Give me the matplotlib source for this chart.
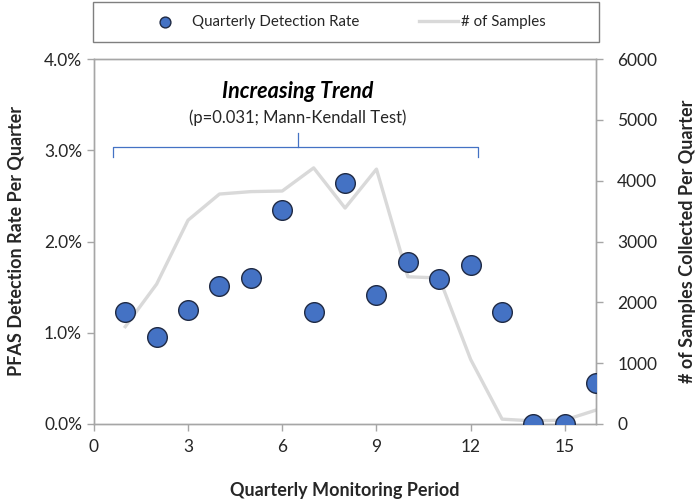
import matplotlib.pyplot as plt
from matplotlib.patches import Rectangle
import numpy as np

plt.rcParams['font.family'] = ['Lato', 'DejaVu Sans']

# data
period = np.arange(1, 17)
detect_rate = [1.23, 0.95, 1.25, 1.51, 1.60, 2.35, 1.23, 2.64,
               1.41, 1.77, 1.59, 1.74, 1.23, 0.0, 0.0, 0.45]
n_samples = [1600, 2300, 3350, 3780, 3820, 3830, 4210, 3550,
             4190, 2420, 2400, 1060, 80, 50, 65, 230]

spine_col = '#A6A6A6'
txt_col = '#262626'

fig = plt.figure(figsize=(6.95, 5.0), dpi=100)
ax = fig.add_axes([0.135, 0.152, 0.723, 0.730])
ax2 = ax.twinx()

ax2.plot(period, n_samples, color='#D9D9D9', linewidth=2.4, zorder=1,
         label='# of Samples')
ax.scatter(period, detect_rate, s=200, color='#4472C4', edgecolor='#1F2A44',
           linewidth=1.0, zorder=3, label='Quarterly Detection Rate')
ax.set_zorder(ax2.get_zorder() + 1)
ax.patch.set_visible(False)

ax.set_xlim(0, 16)
ax.set_ylim(0, 4.0)
ax2.set_ylim(0, 6000)
ax.set_xticks([0, 3, 6, 9, 12, 15])
ax.set_yticks([0, 1, 2, 3, 4])
ax.set_yticklabels(['%.1f%%' % v for v in [0, 1, 2, 3, 4]])
ax2.set_yticks(np.arange(0, 6001, 1000))

for a in (ax, ax2):
    for s in a.spines.values():
        s.set_color(spine_col)
        s.set_linewidth(1.0)
    a.tick_params(colors=spine_col, labelcolor=txt_col, labelsize=12.5,
                  length=5, width=1.0)
ax.tick_params(axis='x', pad=6)
ax2.tick_params(axis='y', pad=10)

ax.set_xlabel('Quarterly Monitoring Period', fontsize=13, fontweight='bold',
              color=txt_col, labelpad=19)
ax.set_ylabel('PFAS Detection Rate Per Quarter', fontsize=13,
              fontweight='bold', color=txt_col, labelpad=14)
ax2.set_ylabel('# of Samples Collected Per Quarter', fontsize=13,
               fontweight='bold', color=txt_col, labelpad=16)

# bracket with trend annotation
bx0, bx1, bxm = 0.6, 12.22, 6.49
by, bend, btop = 3.04, 2.93, 3.19
ax.plot([bx0, bx0, bx1, bx1], [bend, by, by, bend], color='#4472C4', lw=0.9)
ax.plot([bxm, bxm], [by, btop], color='#4472C4', lw=0.9)
ax.text(bxm, 3.64, 'Increasing Trend', ha='center', va='center',
        fontsize=15.5, fontweight='bold', fontstyle='italic', color='black')
ax.text(bxm, 3.36, '(p=0.031; Mann-Kendall Test)', ha='center', va='center',
        fontsize=12, color=txt_col)

# legend box at the top, with the two entries placed like the original
fig.patches.append(Rectangle((93 / 695, 0.916), 506 / 695, 0.080,
                             transform=fig.transFigure, fill=False,
                             edgecolor='#7F7F7F', linewidth=1.0))
h1, l1 = ax.get_legend_handles_labels()
h2, l2 = ax2.get_legend_handles_labels()
leg1 = fig.legend(h1, l1, loc='center left',
                  bbox_to_anchor=(150 / 695, 0.956), fontsize=10.8,
                  frameon=False, markerscale=0.55, handlelength=2.0,
                  handletextpad=0.8, borderpad=0, borderaxespad=0)
leg2 = fig.legend(h2, l2, loc='center left',
                  bbox_to_anchor=(419 / 695, 0.956), fontsize=10.8,
                  frameon=False, handlelength=2.6, handletextpad=0.2,
                  borderpad=0, borderaxespad=0)
for leg in (leg1, leg2):
    for t in leg.get_texts():
        t.set_color(txt_col)

plt.savefig('out.png', dpi=100)
